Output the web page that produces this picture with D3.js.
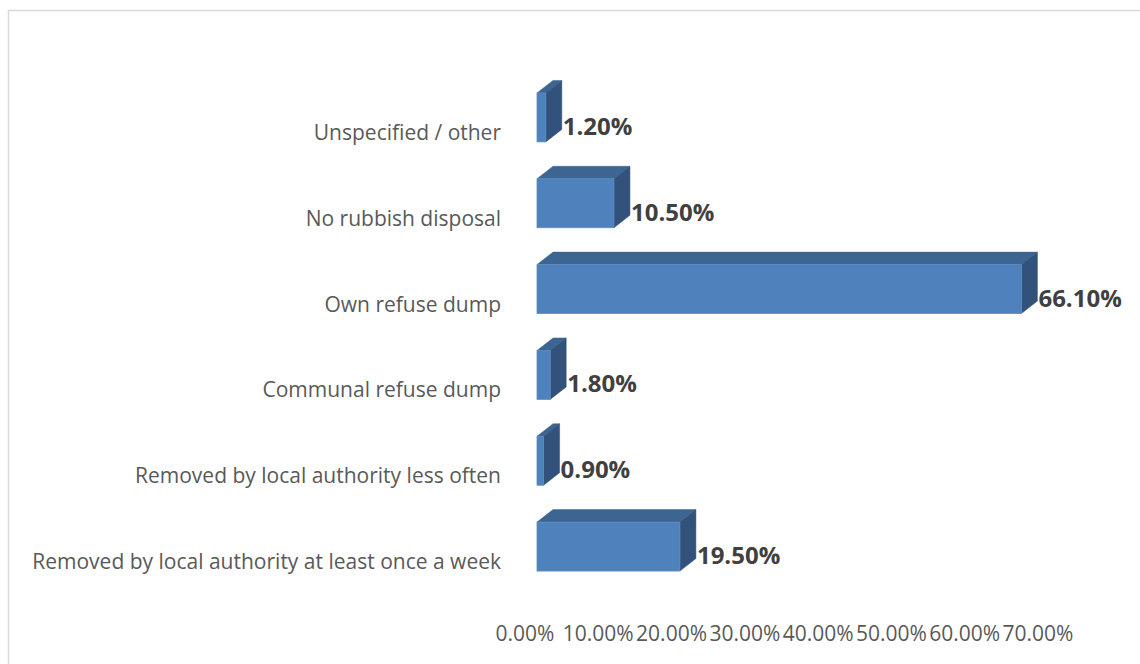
<!DOCTYPE html>
<html>
<head>
<meta charset="utf-8">
<script src="https://cdn.jsdelivr.net/npm/d3@7"></script>
<style>
  html, body { margin: 0; padding: 0; background: #fff; }
  svg { display: block; }
</style>
</head>
<body>
<svg id="chart" width="1140" height="664"></svg>
<script>
// Household refuse disposal (share of households)
const categories = [
  "Unspecified / other",
  "No rubbish disposal",
  "Own refuse dump",
  "Communal refuse dump",
  "Removed by local authority less often",
  "Removed by local authority at least once a week"
];
const values = [1.2, 10.5, 66.1, 1.8, 0.9, 19.5];
const tickValues = [0, 10, 20, 30, 40, 50, 60, 70];

const svg = d3.select("#chart");
const font = "'Open Sans', 'DejaVu Sans', sans-serif";

// chart area frame
svg.append("rect")
  .attr("x", 8.5).attr("y", 10.5)
  .attr("width", 1140).attr("height", 700)
  .attr("fill", "none").attr("stroke", "#d9d9d9").attr("stroke-width", 1.5);

const x = d3.scaleLinear().domain([0, 70]).range([537, 1050]);
const y = d3.scaleBand().domain(categories).range([74.5, 589.5]).paddingInner(0.43).paddingOuter(0.215);

// 3D extrusion depth
const dx = 16, dy = 12.5;

const bars = svg.append("g").selectAll("g.bar")
  .data(categories.map((c, i) => ({ c, v: values[i] })))
  .join("g").attr("class", "bar");

bars.each(function (d) {
  const g = d3.select(this);
  const x0 = x(0), x1 = x(d.v);
  const y0 = y(d.c), y1 = y(d.c) + y.bandwidth();
  // top face
  g.append("polygon")
    .attr("points", [[x0, y0], [x0 + dx, y0 - dy], [x1 + dx, y0 - dy], [x1, y0]].map(p => p.join(",")).join(" "))
    .attr("fill", "#3c6591").attr("stroke", "#3c6591").attr("stroke-width", 0.5);
  // side face
  g.append("polygon")
    .attr("points", [[x1, y0], [x1 + dx, y0 - dy], [x1 + dx, y1 - dy], [x1, y1]].map(p => p.join(",")).join(" "))
    .attr("fill", "#32527c").attr("stroke", "#32527c").attr("stroke-width", 0.5);
  // front face
  g.append("rect")
    .attr("x", x0).attr("y", y0)
    .attr("width", x1 - x0).attr("height", y1 - y0)
    .attr("fill", "#4f81bd").attr("stroke", "#5b8ac2").attr("stroke-width", 0.8);
  // value label
  g.append("text")
    .attr("x", x1 + dx + 1).attr("y", y1 - 7)
    .attr("font-family", font).attr("font-weight", "bold").attr("font-size", 24)
    .attr("fill", "#404040")
    .text(d.v.toFixed(2) + "%");
});

// category labels
svg.append("g").selectAll("text")
  .data(categories)
  .join("text")
  .attr("x", 501)
  .attr("y", c => y(c) + y.bandwidth() / 2 + 22.5)
  .attr("text-anchor", "end")
  .attr("font-family", font).attr("font-size", 21)
  .attr("fill", "#595959")
  .text(c => c);

// value axis tick labels
svg.append("g").selectAll("text")
  .data(tickValues)
  .join("text")
  .attr("x", v => x(v) - 12)
  .attr("y", 641)
  .attr("text-anchor", "middle")
  .attr("font-family", font).attr("font-size", 21)
  .attr("fill", "#595959")
  .text(v => v.toFixed(2) + "%");
</script>
</body>
</html>
